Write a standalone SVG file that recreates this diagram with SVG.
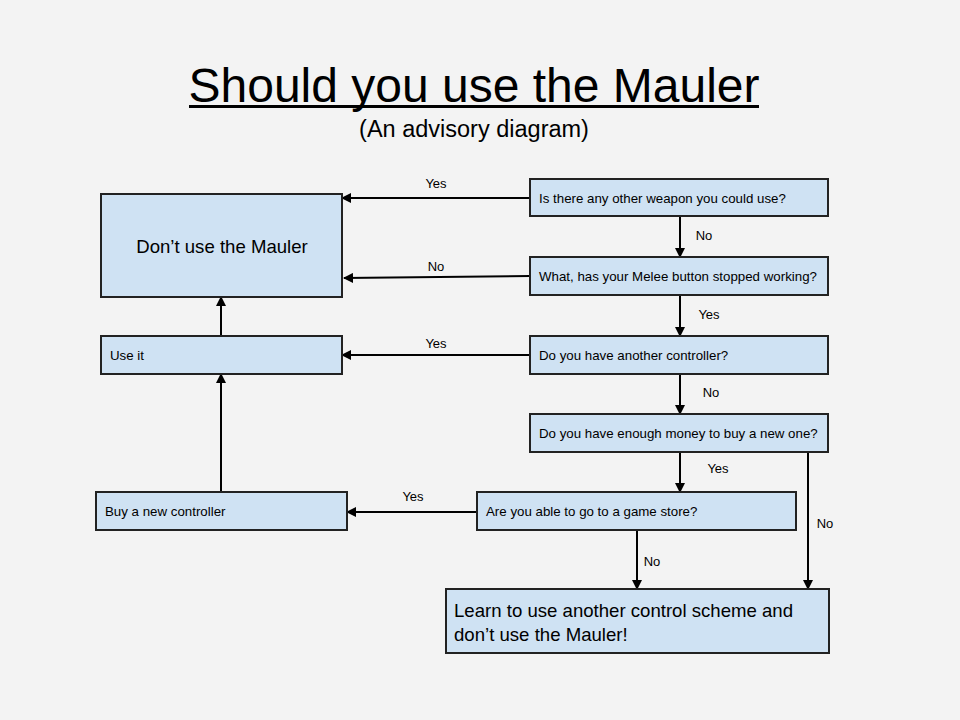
<svg xmlns="http://www.w3.org/2000/svg" width="960" height="720" viewBox="0 0 960 720">
<style>
.box{fill:#cfe2f3;stroke:#222;stroke-width:2}
.t{font-family:"Liberation Sans",Arial,sans-serif;fill:#000}
.s{font-size:13.3px}
.l{font-size:18.6px}
.lbl{font-family:"Liberation Sans",Arial,sans-serif;font-size:13px;fill:#000;text-anchor:middle}
.c{stroke:#000;stroke-width:2;fill:none;marker-end:url(#ah)}
</style>
<defs>
<marker id="ah" viewBox="0 0 10 10" refX="9" refY="5" markerWidth="5" markerHeight="5" orient="auto" markerUnits="strokeWidth">
<path d="M0,0 L10,5 L0,10 z" fill="#000"/>
</marker>
</defs>
<rect width="960" height="720" fill="#f3f3f3"/>
<g id="title">
<text class="t" x="474" y="102" font-size="48" text-anchor="middle">Should you use the Mauler</text>
<rect x="189" y="105" width="570" height="3" fill="#000"/>
<text class="t" x="474" y="137" font-size="23.5" text-anchor="middle">(An advisory diagram)</text>
</g>
<g id="connectors">
<line class="c" x1="530" y1="198" x2="342" y2="198"/>
<line class="c" x1="680" y1="216" x2="680" y2="257"/>
<line class="c" x1="530" y1="276" x2="344" y2="278"/>
<line class="c" x1="680" y1="295" x2="680" y2="336"/>
<line class="c" x1="530" y1="355" x2="342" y2="355"/>
<line class="c" x1="680" y1="374" x2="680" y2="414"/>
<line class="c" x1="680" y1="452" x2="680" y2="492"/>
<line class="c" x1="808" y1="452" x2="808" y2="589"/>
<line class="c" x1="477" y1="512" x2="347" y2="512"/>
<line class="c" x1="637" y1="530" x2="637" y2="589"/>
<line class="c" x1="221" y1="492" x2="221" y2="374"/>
<line class="c" x1="221" y1="336" x2="221" y2="297"/>
<text class="lbl" x="436" y="188">Yes</text>
<text class="lbl" x="704" y="240">No</text>
<text class="lbl" x="436" y="271">No</text>
<text class="lbl" x="709" y="319">Yes</text>
<text class="lbl" x="436" y="348">Yes</text>
<text class="lbl" x="711" y="397">No</text>
<text class="lbl" x="718" y="473">Yes</text>
<text class="lbl" x="825" y="528">No</text>
<text class="lbl" x="413" y="501">Yes</text>
<text class="lbl" x="652" y="566">No</text>
</g>
<g id="dont">
<rect class="box" x="101" y="194" width="241" height="103"/>
<text class="t l" x="222" y="253" text-anchor="middle">Don’t use the Mauler</text>
</g>
<g id="useit">
<rect class="box" x="101" y="336" width="241" height="38"/>
<text class="t s" x="110" y="360">Use it</text>
</g>
<g id="buy">
<rect class="box" x="96" y="492" width="251" height="38"/>
<text class="t s" x="105" y="516">Buy a new controller</text>
</g>
<g id="q1">
<rect class="box" x="530" y="179" width="298" height="37"/>
<text class="t s" x="539" y="203">Is there any other weapon you could use?</text>
</g>
<g id="q2">
<rect class="box" x="530" y="257" width="298" height="38"/>
<text class="t s" x="539" y="281">What, has your Melee button stopped working?</text>
</g>
<g id="q3">
<rect class="box" x="530" y="336" width="298" height="38"/>
<text class="t s" x="539" y="360">Do you have another controller?</text>
</g>
<g id="q4">
<rect class="box" x="530" y="414" width="298" height="38"/>
<text class="t s" x="539" y="438">Do you have enough money to buy a new one?</text>
</g>
<g id="q5">
<rect class="box" x="477" y="492" width="319" height="38"/>
<text class="t s" x="486" y="516">Are you able to go to a game store?</text>
</g>
<g id="final">
<rect class="box" x="446" y="589" width="383" height="64"/>
<text class="t l" x="454" y="617">Learn to use another control scheme and</text>
<text class="t l" x="454" y="641">don’t use the Mauler!</text>
</g>
</svg>
